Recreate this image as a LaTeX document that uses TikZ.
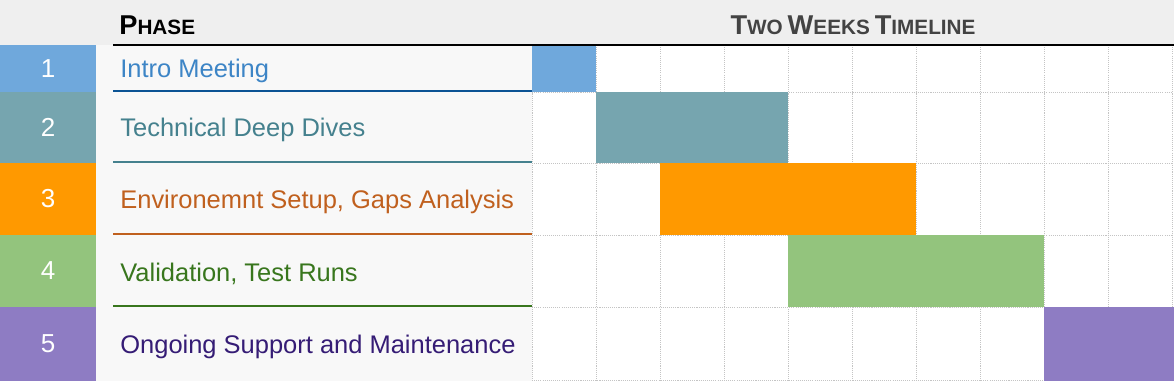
\documentclass[tikz,border=0pt]{standalone}
\usepackage{fontspec}
\setmainfont{Liberation Sans}
\usetikzlibrary{positioning}
\definecolor{hdrgray}{HTML}{EFEFEF}
\definecolor{panelgray}{HTML}{F8F8F8}
\definecolor{gridgray}{HTML}{C4C4C4}
\definecolor{titlegray}{HTML}{434343}
\definecolor{blueA}{HTML}{6FA8DC}
\definecolor{blueB}{HTML}{3D85C6}
\definecolor{blueC}{HTML}{0B5394}
\definecolor{tealA}{HTML}{76A5AF}
\definecolor{tealB}{HTML}{45818E}
\definecolor{orangeA}{HTML}{FF9900}
\definecolor{orangeB}{HTML}{C0601E}
\definecolor{greenA}{HTML}{93C47D}
\definecolor{greenB}{HTML}{38761D}
\definecolor{purpleA}{HTML}{8E7CC3}
\definecolor{purpleB}{HTML}{351C75}
\newcommand\capword[2]{{\fontsize{15.5}{17}\selectfont #1}{\fontsize{11.8}{13}\selectfont #2}}

\begin{document}
\begin{tikzpicture}[x=0.02cm, y=-0.02cm,
    numcell/.style={rectangle, minimum width=1.92cm, inner sep=0pt, text=white, font=\fontsize{14.8}{17}\selectfont},
    phase/.style={anchor=west, inner sep=0pt, font=\fontsize{14.5}{17}\selectfont},
    hdr/.style={inner sep=0pt, font=\bfseries},
    uline/.style={line width=1.5pt},
    grid/.style={gridgray, line width=0.5pt, dash pattern=on 0.6pt off 0.6pt}]
  \useasboundingbox (0,0) rectangle (1174,381);
  \fill[hdrgray] (0,0) rectangle (1174,45);
  \fill[panelgray] (96,45) rectangle (532,381);
  \fill[white] (532,45) rectangle (1174,381);

  \node[hdr, anchor=west] (phasehdr) at (119,25) {\capword{P}{HASE}};
  \node[hdr, text=titlegray] (timehdr) at (853,25) {\capword{T}{WO} \capword{W}{EEKS} \capword{T}{IMELINE}};

  \foreach \x in {532,596,...,1172}
    \draw[grid] (\x,45) -- (\x,381);
  \foreach \y in {92,163,235,307,380}
    \draw[grid] (532,\y) -- (1172,\y);

  \fill[blueA] (532,46) rectangle (596,92);
  \fill[tealA] (596,92) rectangle (788,163);
  \fill[orangeA] (660,163) rectangle (916,235);
  \fill[greenA] (788,235) rectangle (1044,307);
  \fill[purpleA] (1044,307) rectangle (1174,381);

  \draw[line width=1pt] (113,45) -- (1174,45);

  \node[numcell, fill=blueA, minimum height=0.94cm] (n1) at (48,68.5) {\raisebox{-1.5pt}{1}};
  \node[numcell, fill=tealA, minimum height=1.42cm] (n2) at (48,127.5) {\raisebox{-1.5pt}{2}};
  \node[numcell, fill=orangeA, minimum height=1.44cm] (n3) at (48,199) {\raisebox{-1.5pt}{3}};
  \node[numcell, fill=greenA, minimum height=1.44cm] (n4) at (48,271) {\raisebox{-1.5pt}{4}};
  \node[numcell, fill=purpleA, minimum height=1.48cm] (n5) at (48,344) {\raisebox{-1.5pt}{5}};

  \node[phase, text=blueB] (p1) at (120,71) {Intro Meeting};
  \node[phase, text=tealB] (p2) at (120,130) {Technical Deep Dives};
  \node[phase, text=orangeB] (p3) at (120,201.5) {Environemnt Setup, Gaps Analysis};
  \node[phase, text=greenB] (p4) at (120,273.5) {Validation, Test Runs};
  \node[phase, text=purpleB] (p5) at (120,346.5) {Ongoing Support and Maintenance};

  \draw[uline, blueC] (113,91) -- (532,91);
  \draw[uline, tealB] (113,162) -- (532,162);
  \draw[uline, orangeB] (113,234) -- (532,234);
  \draw[uline, greenB] (113,306) -- (532,306);
\end{tikzpicture}
\end{document}
